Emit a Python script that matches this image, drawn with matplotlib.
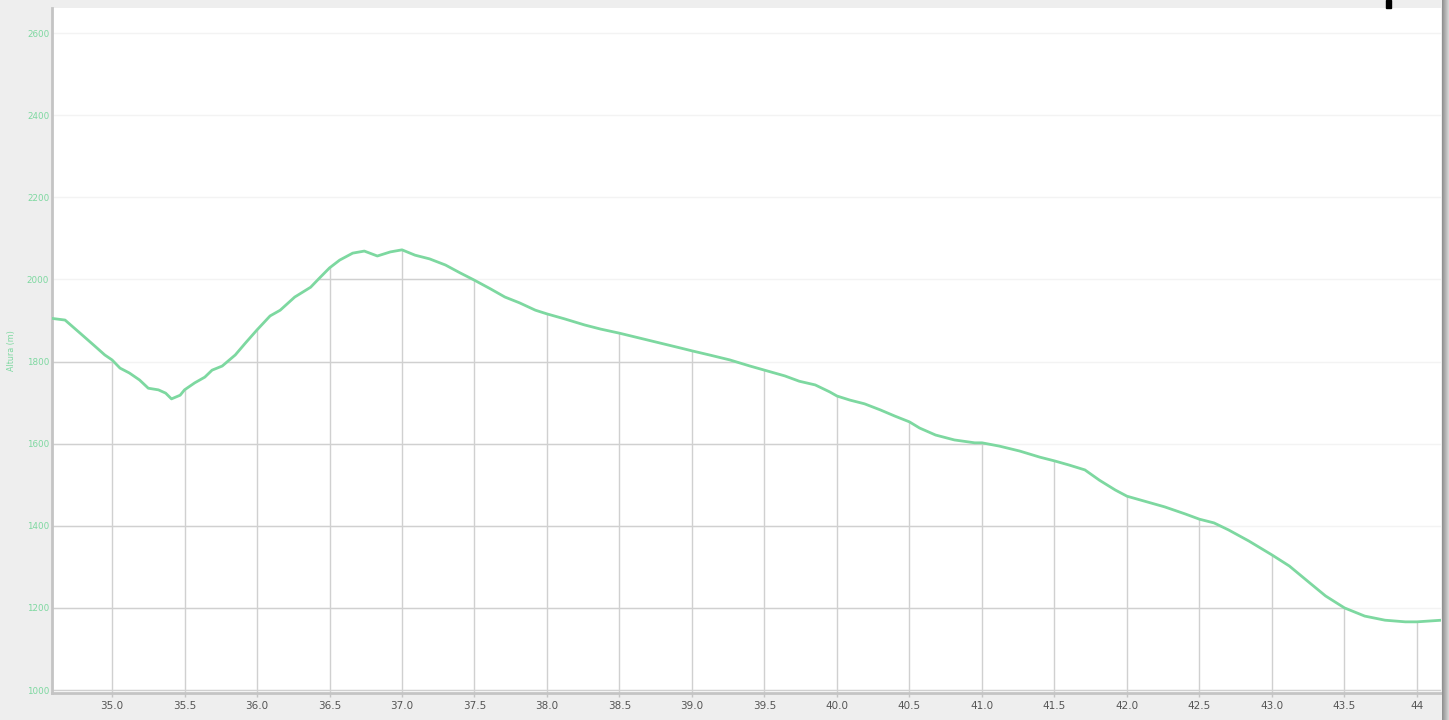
"""
Elevation profile (Altura vs distance) recreated from a screenshot.
"""

import numpy as np
import matplotlib
matplotlib.use('Agg')
import matplotlib.pyplot as plt
from matplotlib.patches import Polygon, Rectangle

# Distance (km) and elevation (m)
dist = [34.586, 34.676, 34.78, 34.88, 34.95, 35.0, 35.055, 35.12, 35.19, 35.25,
        35.32, 35.37, 35.41, 35.47, 35.5, 35.57, 35.64, 35.69, 35.76, 35.85,
        35.92, 36.0, 36.09, 36.16, 36.26, 36.37, 36.43, 36.5, 36.57, 36.66,
        36.74, 36.83, 36.92, 37.0, 37.09, 37.19, 37.3, 37.4, 37.5, 37.61,
        37.71, 37.81, 37.92, 38.0, 38.12, 38.26, 38.37, 38.5, 38.64, 38.78,
        38.92, 39.0, 39.12, 39.26, 39.4, 39.5, 39.64, 39.74, 39.85, 39.95,
        40.0, 40.09, 40.19, 40.3, 40.4, 40.5, 40.57, 40.68, 40.81, 40.95,
        41.0, 41.12, 41.26, 41.4, 41.5, 41.6, 41.71, 41.81, 41.92, 42.0,
        42.12, 42.26, 42.4, 42.5, 42.6, 42.7, 42.84, 43.0, 43.12, 43.26,
        43.37, 43.5, 43.64, 43.78, 43.92, 44.0, 44.17]
altura = [1905, 1901, 1869, 1838, 1816, 1804, 1784, 1772, 1755, 1735,
          1731, 1723, 1709, 1718, 1731, 1748, 1762, 1779, 1789, 1816,
          1845, 1877, 1911, 1925, 1957, 1981, 2003, 2028, 2047, 2064,
          2069, 2057, 2067, 2072, 2059, 2050, 2035, 2016, 1998, 1977,
          1957, 1943, 1925, 1916, 1904, 1889, 1879, 1869, 1857, 1845,
          1833, 1826, 1816, 1804, 1789, 1779, 1765, 1752, 1743, 1726,
          1716, 1706, 1697, 1682, 1667, 1653, 1638, 1621, 1609, 1602,
          1602, 1594, 1582, 1567, 1558, 1548, 1536, 1511, 1487, 1472,
          1460, 1446, 1429, 1416, 1407, 1390, 1363, 1329, 1302, 1261,
          1229, 1200, 1180, 1170, 1166, 1166, 1170]

x_ticks = [35.0, 35.5, 36.0, 36.5, 37.0, 37.5, 38.0, 38.5, 39.0, 39.5,
           40.0, 40.5, 41.0, 41.5, 42.0, 42.5, 43.0, 43.5, 44.0]
x_tick_labels = ['35.0', '35.5', '36.0', '36.5', '37.0', '37.5', '38.0', '38.5',
                 '39.0', '39.5', '40.0', '40.5', '41.0', '41.5', '42.0', '42.5',
                 '43.0', '43.5', '44']
y_ticks = [1000, 1200, 1400, 1600, 1800, 2000, 2200, 2400, 2600]

GREEN = '#7dd8a0'
GRID = '#d0d0d0'

fig = plt.figure(figsize=(14.49, 7.2), dpi=100, facecolor='#eeeeee')
ax = fig.add_axes([52 / 1449, 27 / 720, 1389 / 1449, 685 / 720])
ax.set_facecolor('white')

xmin, xmax = 34.586, 44.166
ymin, ymax = 992.7, 2661
ax.set_xlim(xmin, xmax)
ax.set_ylim(ymin, ymax)

# faint grid above the curve
for yv in y_ticks:
    ax.axhline(yv, color='#f3f3f3', linewidth=1.0, zorder=0)

# area under the curve used as clip for the darker grid
verts = list(zip(dist, altura)) + [(dist[-1], ymin), (dist[0], ymin)]
clip = Polygon(verts, closed=True, transform=ax.transData,
               facecolor='none', edgecolor='none')
ax.add_patch(clip)

for yv in y_ticks:
    ln = ax.axhline(yv, color=GRID, linewidth=1.0, zorder=1)
    ln.set_clip_path(clip)
for xv in x_ticks:
    ln = ax.axvline(xv, color=GRID, linewidth=1.0, zorder=1)
    ln.set_clip_path(clip)

# elevation line
ax.plot(dist, altura, color=GREEN, linewidth=2.0, zorder=3,
        solid_joinstyle='round')

# axes styling
for side in ['top', 'right']:
    ax.spines[side].set_visible(False)
ax.spines['left'].set_color('#c4c4c4')
ax.spines['left'].set_linewidth(2)
ax.spines['bottom'].set_color('#c4c4c4')
ax.spines['bottom'].set_linewidth(2)

ax.set_xticks(x_ticks)
ax.set_xticklabels(x_tick_labels, fontsize=7.5, color='#555555')
ax.set_yticks(y_ticks)
ax.set_yticklabels([str(v) for v in y_ticks], fontsize=6.3, color=GREEN)
ax.tick_params(axis='x', length=3, width=1, color='#c4c4c4', pad=3)
ax.tick_params(axis='y', length=0, pad=2)

ax.set_ylabel('Altura (m)', fontsize=5.8, color=GREEN, labelpad=8)

# dark edge on the right and small black mark at the top
grad = np.linspace(0.55, 0.85, 50).reshape(1, -1)
edge = fig.add_axes([1442 / 1449, 0, 7 / 1449, 1])
edge.imshow(grad, cmap='gray', aspect='auto', vmin=0, vmax=1)
edge.axis('off')
fig.patches.append(Rectangle((1386 / 1449, 712 / 720), 5 / 1449, 8 / 720,
                             transform=fig.transFigure, color='black'))

plt.savefig('out.png', dpi=100, facecolor=fig.get_facecolor())
plt.close()
